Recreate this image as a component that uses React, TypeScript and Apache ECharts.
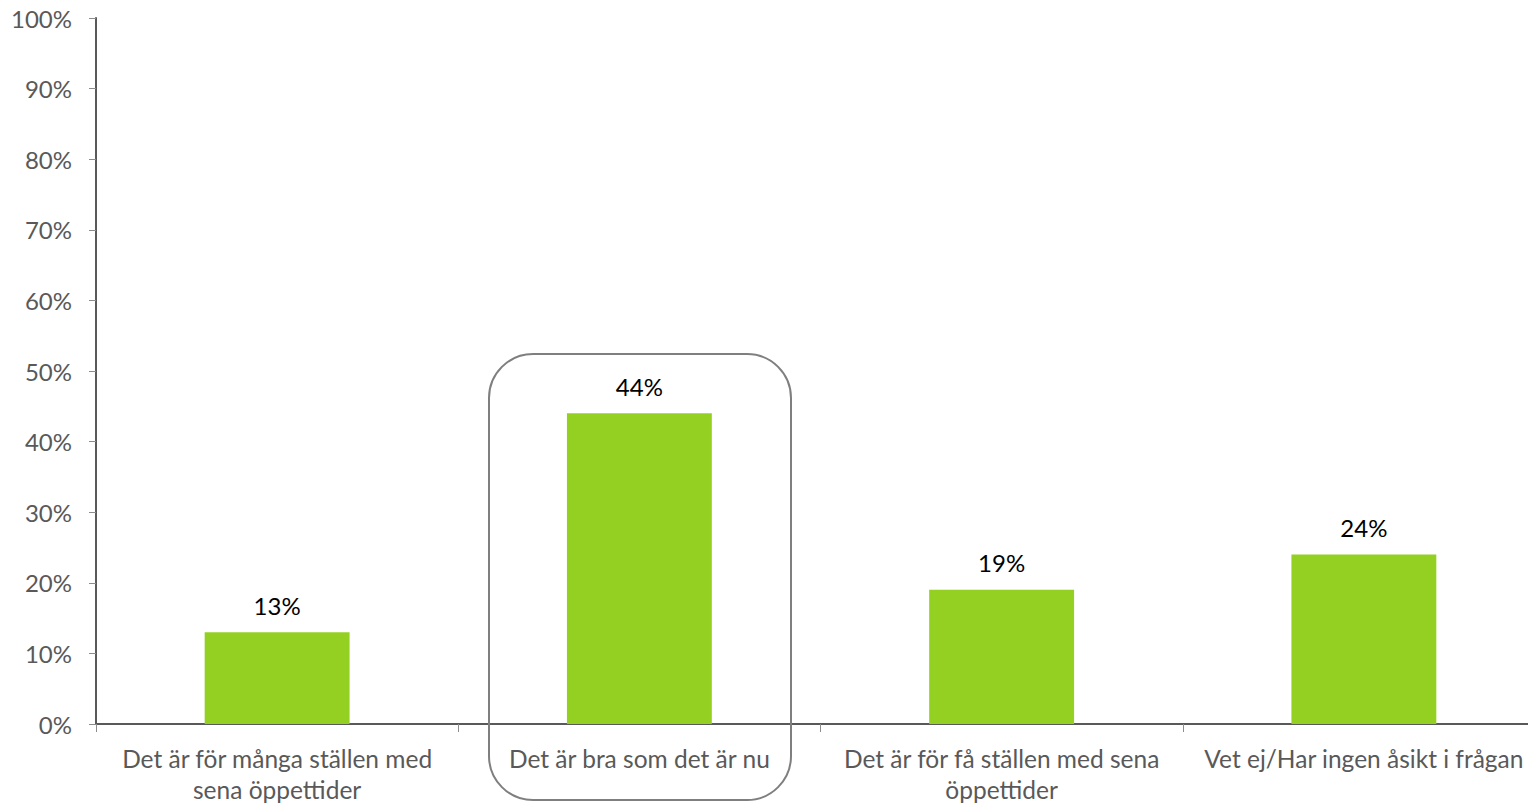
import React, { useEffect, useRef } from "react";
import * as echarts from "echarts";

const categories = [
  "Det är för många ställen med\nsena öppettider",
  "Det är bra som det är nu",
  "Det är för få ställen med sena\nöppettider",
  "Vet ej/Har ingen åsikt i frågan",
];
const values = [13, 44, 19, 24];
const yTicks = [0, 10, 20, 30, 40, 50, 60, 70, 80, 90, 100];

const FONT = "Lato, 'Open Sans', sans-serif";
const AXIS = "#595959";

export default function App() {
  const ref = useRef<HTMLDivElement>(null);
  useEffect(() => {
    const chart = echarts.init(ref.current!, null, { renderer: "svg" });
    chart.setOption({
      animation: false,
      grid: { left: 96, right: 0, top: 18, bottom: 81, containLabel: false },
      xAxis: {
        type: "category",
        data: categories,
        axisLine: { lineStyle: { color: AXIS, width: 2 } },
        axisTick: { show: true, length: 8, lineStyle: { color: "#8c8c8c", width: 1 } },
        axisLabel: {
          color: AXIS,
          fontFamily: FONT,
          fontSize: 24.5,
          lineHeight: 31,
          margin: 19,
          interval: 0,
        },
      },
      yAxis: {
        type: "value",
        min: yTicks[0],
        max: yTicks[yTicks.length - 1],
        interval: 10,
        splitLine: { show: false },
        axisLine: { show: true, lineStyle: { color: AXIS, width: 2 } },
        axisTick: { show: true, length: 7, lineStyle: { color: "#8c8c8c", width: 1 } },
        axisLabel: {
          color: AXIS,
          fontFamily: FONT,
          fontSize: 24,
          margin: 24,
          formatter: (v: number) => v + "%",
        },
      },
      series: [
        {
          type: "bar",
          data: values,
          barWidth: "40%",
          itemStyle: { color: "#94D022" },
          label: {
            show: true,
            position: "top",
            distance: 15,
            color: "#000",
            fontFamily: FONT,
            fontSize: 24,
            formatter: (p: any) => p.value + "%",
          },
        },
      ],
      graphic: [
        {
          type: "rect",
          shape: { x: 489, y: 354, width: 302, height: 446, r: 44 },
          style: { fill: "none", stroke: "#7f7f7f", lineWidth: 2 },
          z: 10,
        },
      ],
    });
    return () => chart.dispose();
  }, []);
  return (
    <div
      style={{ position: "fixed", left: 0, top: 0, width: 1528, height: 805, overflow: "hidden", background: "#fff" }}
    >
      <div ref={ref} style={{ width: 1545, height: 805 }} />
    </div>
  );
}
